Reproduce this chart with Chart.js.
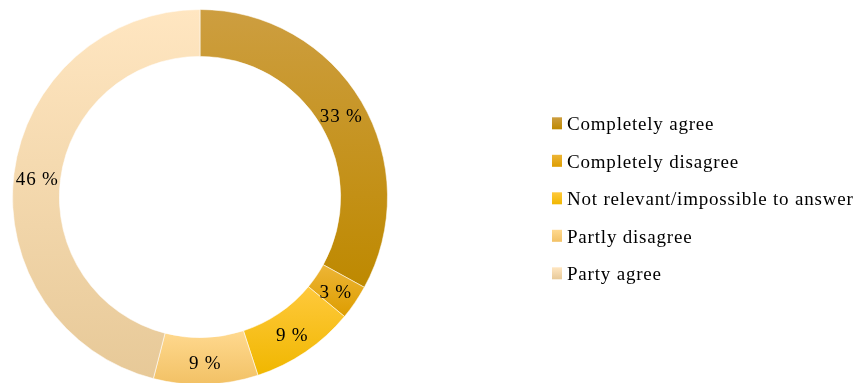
<!DOCTYPE html>
<html>
<head>
<meta charset="utf-8">
<script src="https://cdn.jsdelivr.net/npm/chart.js@4.4.1/dist/chart.umd.min.js"></script>
<style>
  html, body { margin: 0; padding: 0; background: #fff; overflow: hidden; }
  #wrap { width: 859px; height: 383px; overflow: hidden; }
</style>
</head>
<body>
<div id="wrap"><canvas id="answers" width="859" height="390"></canvas></div>
<script>
var answerLabels = ['Completely agree', 'Completely disagree', 'Not relevant/impossible to answer', 'Partly disagree', 'Party agree'];
var answerShares = [33, 3, 9, 9, 46];

// every slice fades from the top colour to the bottom one
var shadeTop = ['#CD9E40', '#EDB536', '#FFC93C', '#FFD98F', '#FFE6C1'];
var shadeBottom = ['#BE8900', '#DD9D00', '#F0B700', '#F2C165', '#E7C998'];

var FONT = '19px "Liberation Serif", "Times New Roman", serif';
var SPACING = '0.8px';

// vertical extent of one slice of the ring
function arcTopBottom(arc) {
  var ys = [];
  [arc.startAngle, arc.endAngle].forEach(function (a) {
    ys.push(arc.y + Math.sin(a) * arc.outerRadius);
    ys.push(arc.y + Math.sin(a) * arc.innerRadius);
  });
  for (var k = -1; k <= 2; k++) {
    var up = -Math.PI / 2 + 2 * Math.PI * k, down = Math.PI / 2 + 2 * Math.PI * k;
    if (up > arc.startAngle && up < arc.endAngle) ys.push(arc.y - arc.outerRadius);
    if (down > arc.startAngle && down < arc.endAngle) ys.push(arc.y + arc.outerRadius);
  }
  return [Math.min.apply(null, ys), Math.max.apply(null, ys)];
}

function shade(ctx, i, y0, y1) {
  var g = ctx.createLinearGradient(0, y0, 0, y1);
  g.addColorStop(0, shadeTop[i]);
  g.addColorStop(1, shadeBottom[i]);
  return g;
}

var sliceShading = {
  id: 'sliceShading',
  beforeDatasetsDraw: function (chart) {
    var ctx = chart.ctx;
    chart.getDatasetMeta(0).data.forEach(function (arc, i) {
      var ext = arcTopBottom(arc);
      arc.options = Object.assign({}, arc.options, { backgroundColor: shade(ctx, i, ext[0], ext[1]) });
    });
  }
};

var sliceLabels = {
  id: 'sliceLabels',
  afterDatasetsDraw: function (chart) {
    var ctx = chart.ctx;
    ctx.save();
    ctx.letterSpacing = SPACING;
    ctx.font = FONT;
    ctx.fillStyle = '#000';
    ctx.textAlign = 'center';
    ctx.textBaseline = 'middle';
    chart.getDatasetMeta(0).data.forEach(function (arc, i) {
      var p = arc.tooltipPosition();
      ctx.fillText(answerShares[i] + ' %', p.x, p.y + 3.5);
    });
    ctx.restore();
  }
};

var sideLegend = {
  id: 'sideLegend',
  afterDraw: function (chart) {
    var ctx = chart.ctx;
    ctx.save();
    ctx.letterSpacing = SPACING;
    ctx.font = FONT;
    ctx.textAlign = 'left';
    ctx.textBaseline = 'alphabetic';
    answerLabels.forEach(function (label, i) {
      var cy = 123.3 + i * 37.5;
      ctx.fillStyle = shade(ctx, i, cy - 6, cy + 6);
      ctx.fillRect(552, cy - 6, 10, 12);
      ctx.fillStyle = '#000';
      ctx.fillText(label, 567, cy + 7);
    });
    ctx.restore();
  }
};

var ctx = document.getElementById('answers');
new Chart(ctx, {
  type: 'doughnut',
  data: {
    labels: answerLabels,
    datasets: [{
      data: answerShares,
      backgroundColor: shadeTop,
      borderColor: 'rgba(255,255,255,0.55)',
      borderWidth: 1
    }]
  },
  options: {
    responsive: false,
    devicePixelRatio: 1,
    animation: false,
    events: [],
    cutout: '75%',
    layout: { padding: { left: 12, top: 9, right: 471, bottom: 5 } },
    plugins: {
      legend: { display: false },
      tooltip: { enabled: false }
    }
  },
  plugins: [sliceShading, sliceLabels, sideLegend]
});
</script>
</body>
</html>
